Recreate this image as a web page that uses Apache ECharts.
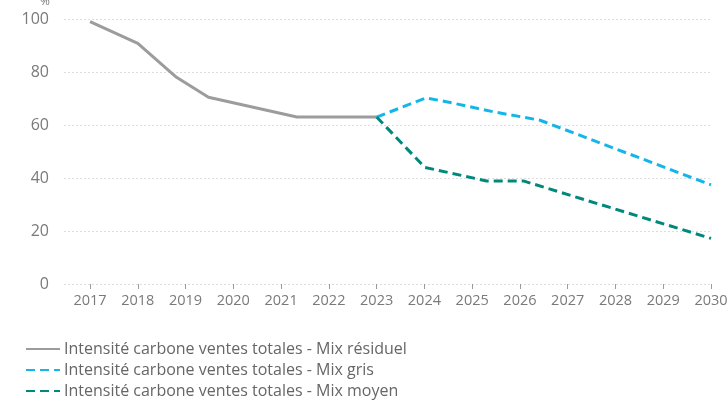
<!DOCTYPE html>
<html><head><meta charset="utf-8">
<script src="https://cdn.jsdelivr.net/npm/echarts@6/dist/echarts.min.js"></script>
<style>html,body{margin:0;padding:0;background:#fff}#c{width:727px;height:401px}</style>
</head><body><div id="c"></div>
<script>
const tickYears = [2017,2018,2019,2020,2021,2022,2023,2024,2025,2026,2027,2028,2029,2030];
const yTicks = [0,20,40,60,80,100];

const residuelYears = [2017, 2018, 2018.81, 2019.48, 2021.33, 2023];
const residuelValues = [99, 90.8, 78, 70.5, 63, 63];

const grisYears = [2023, 2024.03, 2024.46, 2025.44, 2026.42, 2030];
const grisValues = [63, 70.2, 68.8, 65, 61.8, 37.4];

const moyenYears = [2023, 2024.01, 2025.3, 2026.07, 2030];
const moyenValues = [63, 44, 38.9, 38.9, 17.2];

const names = [
  'Intensité carbone ventes totales - Mix résiduel',
  'Intensité carbone ventes totales - Mix gris',
  'Intensité carbone ventes totales - Mix moyen'
];

const pairs = (xs, ys) => xs.map((x, i) => [x, ys[i]]);
const font = '"Open Sans", "Noto Sans", sans-serif';

const chart = echarts.init(document.getElementById('c'));
chart.setOption({
  animation: false,
  textStyle: { fontFamily: font },
  grid: { left: 64, right: 16, top: 19, bottom: 117, containLabel: false, outerBoundsMode: 'none' },
  xAxis: {
    type: 'value',
    min: 2016.455,
    max: 2030,
    axisLine: { show: false },
    splitLine: { show: false },
    axisTick: { show: true, customValues: tickYears, length: 5, lineStyle: { color: '#9a9a9a' } },
    axisLabel: { customValues: tickYears, color: '#7a7a7a', fontSize: 14.5, margin: 9, fontFamily: font,
      formatter: v => String(Math.round(v)) }
  },
  yAxis: {
    type: 'value',
    min: 0, max: 100, interval: 20,
    name: '%', nameLocation: 'end', nameGap: 11,
    nameTextStyle: { color: '#7a7a7a', fontSize: 12, align: 'right', padding: [0, 14, 0, 0] },
    axisLine: { show: false },
    axisTick: { show: false },
    axisLabel: { color: '#7a7a7a', fontSize: 16, margin: 15, fontFamily: font },
    splitLine: { lineStyle: { color: '#dddddd', type: [2, 2], width: 1 } }
  },
  legend: {
    orient: 'vertical',
    left: 20, top: 336, height: 70,
    itemWidth: 34, itemHeight: 14, itemGap: 5,
    itemStyle: { opacity: 0 },
    textStyle: { color: '#666', fontSize: 16, fontFamily: font, padding: [0, 0, 0, -1] },
    data: names
  },
  series: [
    { name: names[0], type: 'line', data: pairs(residuelYears, residuelValues), symbol: 'none',
      lineStyle: { color: '#9b9c9e', width: 3 }, itemStyle: { color: '#9b9c9e' } },
    { name: names[1], type: 'line', data: pairs(grisYears, grisValues), symbol: 'none',
      lineStyle: { color: '#14b6ea', width: 3, type: [9, 5] }, itemStyle: { color: '#14b6ea' } },
    { name: names[2], type: 'line', data: pairs(moyenYears, moyenValues), symbol: 'none',
      lineStyle: { color: '#00897b', width: 3, type: [9, 5] }, itemStyle: { color: '#00897b' } }
  ]
});
</script></body></html>
